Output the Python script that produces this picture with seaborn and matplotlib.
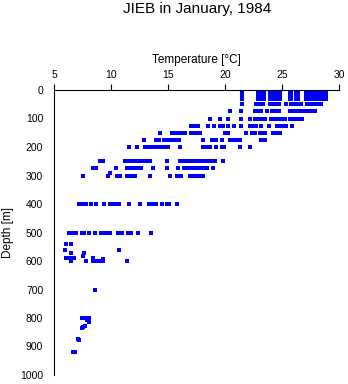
import matplotlib
matplotlib.use("Agg")
import matplotlib.pyplot as plt
import pandas as pd
import seaborn as sns

sns.set_theme(style="white")
plt.rcParams["font.family"] = ["Liberation Sans", "DejaVu Sans"]

# Temperatures (degC) observed at each standard depth (m)
surface_depths = [0, 10, 20, 30]
t_surface = [21.5, 22.9, 23.0, 23.1, 23.2, 23.4, 23.9, 24.1, 24.4, 24.5,
             24.6, 24.8, 25.7, 25.8, 26.2, 26.4, 27.1, 27.2, 27.3, 27.4, 27.5,
             27.6, 27.7, 27.8, 27.9, 28.0, 28.1, 28.2, 28.3, 28.4, 28.5, 28.6,
             28.7, 28.8]
mid_depths = [5, 15, 25]
t_surface_mid = [21.5, 22.9, 23.0, 23.1, 23.2, 24.4, 24.5, 24.6, 25.7, 25.8,
                 27.1, 27.3, 27.5, 27.7, 27.9, 28.1, 28.3, 28.5, 28.7]
t_50 = [21.5, 22.7, 22.9, 23.1, 23.3, 23.9, 24.1, 24.3, 24.5, 24.7, 25.35,
        25.8, 26.0, 26.2, 26.4, 26.6, 27.2, 27.4, 27.6, 27.8, 28.0, 28.2, 28.4]
t_75 = [20.45, 21.4, 22.6, 22.8, 23.0, 23.1, 23.65, 24.1, 24.3, 24.5, 24.7,
        25.7, 25.9, 26.1, 26.3, 26.5, 26.7, 26.9, 27.1, 27.3, 27.5, 27.7, 27.9]
t_100 = [18.65, 19.55, 20.25, 21.4, 22.2, 22.6, 22.8, 23.0, 23.2, 23.4, 23.5,
         24.0, 24.2, 24.4, 24.6, 24.8, 25.0, 25.2, 25.7, 25.9, 26.1, 26.3, 26.5, 26.7]
t_125 = [17.0, 17.3, 17.6, 18.45, 19.05, 19.5, 19.8, 20.25, 20.75, 21.35,
         22.2, 22.4, 22.7, 23.15, 23.85, 24.5, 24.8, 25.1, 25.3, 25.85]
t_150 = [14.25, 15.3, 15.5, 15.8, 16.0, 16.2, 16.5, 17.0, 17.2, 17.4, 17.8,
         20.0, 20.2, 21.85, 22.3, 22.6, 23.0, 23.2, 23.5, 24.2, 24.4, 24.6, 24.8]
t_175 = [12.85, 13.9, 14.2, 14.6, 14.9, 15.2, 15.6, 15.9, 18.05, 18.8, 19.2,
         19.75, 20.4, 20.7, 20.9, 21.3, 23.1, 23.5]
t_200 = [11.55, 12.25, 12.95, 13.3, 13.5, 13.7, 13.9, 14.1, 14.3, 14.6, 15.0,
         16.05, 18.0, 18.2, 18.4, 18.7, 19.15, 19.7, 19.9, 21.25, 22.2]
t_250 = [9.0, 9.3, 11.2, 11.4, 11.6, 11.8, 12.0, 12.2, 12.4, 12.6, 12.8, 13.0,
         13.2, 13.4, 14.9, 16.0, 16.2, 16.4, 16.6, 16.8, 17.2, 17.5, 17.9, 18.1,
         18.3, 18.5, 18.7, 18.9, 19.1, 19.8]
t_275 = [8.4, 8.7, 10.45, 11.4, 11.7, 12.0, 12.3, 12.6, 13.65, 14.85, 15.85,
         16.4, 16.7, 17.0, 17.3, 17.6, 17.9, 18.2, 18.4, 18.9]
t_300 = [7.55, 9.75, 10.5, 10.8, 11.4, 11.7, 12.1, 13.4, 15.15, 15.8, 16.1,
         16.9, 17.2, 17.5, 17.8, 18.0]
t_400 = [7.2, 7.4, 7.6, 7.8, 8.25, 8.7, 9.35, 9.9, 10.1, 10.3, 10.5, 10.7,
         11.55, 12.55, 13.35, 13.7, 13.9, 14.45, 14.9, 15.1, 15.75]
t_500 = [6.25, 6.6, 6.9, 7.4, 7.6, 8.0, 8.55, 9.1, 9.3, 9.5, 9.7, 9.9, 10.6,
         10.9, 11.5, 11.7, 12.3, 13.5]

# Individual deeper samples
deep_temp = [9.85, 6.0, 6.45, 5.9, 6.45, 10.7, 7.6, 7.5, 6.0, 6.2, 6.5, 6.7,
             6.5, 7.8, 8.4, 8.4, 8.6, 8.8, 9.0, 9.2, 9.3, 9.3, 11.35, 8.55,
             7.4, 7.6, 7.8, 8.0, 7.9, 8.0, 7.4, 7.5, 7.7, 7.1, 7.2, 6.6, 6.8]
deep_depth = [290, 541, 541, 562, 571, 561, 571, 581, 591, 591, 591, 591,
              600, 600, 591, 600, 600, 600, 600, 600, 593, 600, 600, 700,
              801, 801, 801, 801, 808, 814, 836, 833, 829, 875, 877, 921, 920]

levels = [(50, t_50), (75, t_75), (100, t_100), (125, t_125), (150, t_150),
          (175, t_175), (200, t_200), (250, t_250), (275, t_275),
          (300, t_300), (400, t_400), (500, t_500)]

temps, depths = [], []
for d in surface_depths:
    temps += t_surface
    depths += [d] * len(t_surface)
for d in mid_depths:
    temps += t_surface_mid
    depths += [d] * len(t_surface_mid)
for d, ts in levels:
    temps += ts
    depths += [d] * len(ts)
temps += deep_temp
depths += deep_depth
df = pd.DataFrame({"Temperature": temps, "Depth": depths})

W, H = 348, 384
fig = plt.figure(figsize=(W / 100, H / 100), dpi=100)
x0, x1, y0, y1 = 54.3, 339.3, 90, 375
ax = fig.add_axes([x0 / W, 1 - y1 / H, (x1 - x0) / W, (y1 - y0) / H])
ax.set_facecolor("white")

sns.scatterplot(data=df, x="Temperature", y="Depth", marker="s", s=5.5,
                color="#0000ff", linewidth=0, antialiased=False, ax=ax,
                legend=False)

ax.set_xlim(5, 30)
ax.set_ylim(1000, 0)
ax.xaxis.tick_top()
ax.xaxis.set_label_position("top")
ax.set_xticks(range(5, 31, 5))
ax.set_yticks(range(0, 1001, 100))
for side in ("right", "bottom"):
    ax.spines[side].set_visible(False)
for side in ("left", "top"):
    ax.spines[side].set_color("black")
    ax.spines[side].set_linewidth(0.8)
ax.tick_params(axis="both", direction="out", length=4, width=0.8,
               colors="black", labelsize=7.5)
ax.tick_params(axis="x", pad=3)
ax.tick_params(axis="y", pad=4)
ax.set_xlabel("Temperature [°C]", fontsize=8.5, labelpad=5, color="black")
ax.set_ylabel("Depth [m]", fontsize=8.5, color="black")
ax.yaxis.set_label_coords((14 - x0) / (x1 - x0), 0.5)
ax.grid(False)

fig.text(196.7 / W, 1 - 13.5 / H, "JIEB in January, 1984", ha="center",
         va="baseline", fontsize=11, color="black")

fig.savefig("out.png", dpi=100, facecolor="white")
